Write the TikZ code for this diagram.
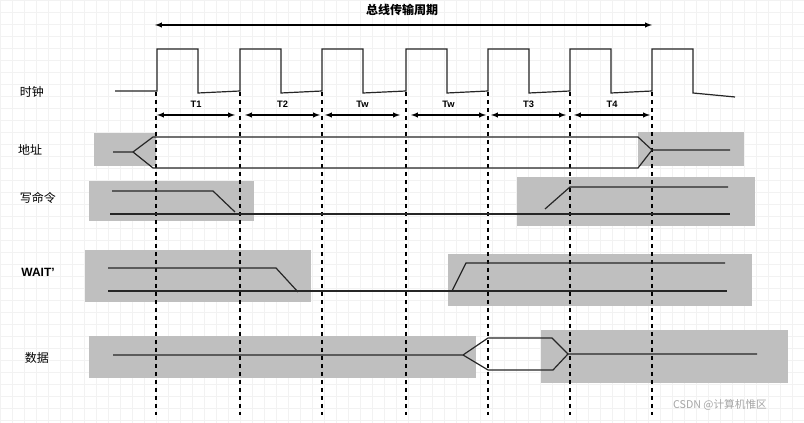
\documentclass[tikz,border=0pt]{standalone}
\usepackage{fontspec}
\setmainfont{Liberation Sans}
\newfontfamily\cjk{Noto Sans CJK SC}
\begin{document}
\begin{tikzpicture}[x=0.75pt,y=-0.75pt,
  sig/.style={line width=0.9pt,draw=black!85},
  gbox/.style={fill=black!25,draw=none},
  vdash/.style={dashed,line width=0.8pt},
  lbl/.style={font=\cjk\small},
  tl/.style={font=\bfseries\scriptsize},
  iv/.style={<->,>=latex,line width=0.8pt}]
\useasboundingbox (0,0) rectangle (804,423);
\fill[white] (0,0) rectangle (804,423);
\draw[black!5,step=9pt] (0,0) grid (603pt,-317pt);
% boxes
\fill[gbox] (94,133) rectangle (156,166);
\fill[gbox] (638,132) rectangle (744,166);
\fill[gbox] (89,181) rectangle (254,221);
\fill[gbox] (517,177) rectangle (755,226);
\fill[gbox] (85,250) rectangle (311,302);
\fill[gbox] (448,254) rectangle (752,306);
\fill[gbox] (89,336) rectangle (476,378);
\fill[gbox] (541,330) rectangle (788,383);
% dashed lines
\foreach \x in {156,240,322,406,488,570,652}
  \draw[vdash] (\x,92) -- (\x,415);
% clock
\draw[sig] (115,91) -- (157,91)
  \foreach \a/\b in {157/198,240/281,322/363,406/447,488/529,570/611,652/693}
  { -- (\a,91) -- (\a,49) -- (\b,49) -- (\b,93) } -- (735,97);
% top arrow
\coordinate (pa) at (155,25); \coordinate (pb) at (652,25);
\draw[iv] (pa) -- (pb);
\node[font=\cjk\small\bfseries] (title) at (402,10) {总线传输周期};
% intervals
\foreach \a/\b/\t in {157/235/T1,245/320/T2,325/400/Tw,411/486/Tw,491/566/T3,574/650/T4}{
  \draw[iv] (\a,115) -- (\b,115);
  \node[tl] at ({(\a+\b)/2},104) {\t};}
% labels
\node[lbl] (l1) at (32,92) {时钟};
\node[lbl] (l2) at (30,150) {地址};
\node[lbl] (l3) at (38,198) {写命令};
\node[font=\bfseries\small] (l4) at (38,272) {WAIT'};
\node[lbl] (l5) at (37,358) {数据};
% address
\draw[sig] (113,152) -- (133,152) -- (153,137) -- (638,137) -- (652,150) -- (730,150);
\draw[sig] (133,152) -- (153,168) -- (638,168) -- (652,150);
% write
\draw[sig] (112,191) -- (213,191) -- (235,212);
\draw[sig] (110,214) -- (730,214);
\draw[sig] (545,209) -- (570,187) -- (728,187);
% wait
\draw[sig] (108,268) -- (276,268) -- (298,292);
\draw[sig] (108,291) -- (727,291);
\draw[sig] (452,291) -- (466,263) -- (725,263);
% data
\draw[sig] (113,355) -- (463,355) -- (488,338) -- (552,338) -- (568,354) -- (757,354);
\draw[sig] (463,355) -- (488,370) -- (553,370) -- (568,354);
\node[font=\cjk\footnotesize,text=black!35] (wm) at (720,405) {CSDN @计算机惟区};
\end{tikzpicture}
\end{document}
